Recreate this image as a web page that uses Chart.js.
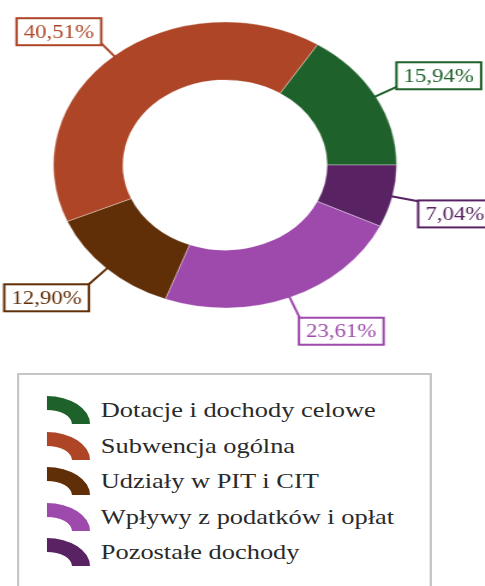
<!DOCTYPE html>
<html><head><meta charset="utf-8">
<script src="https://cdn.jsdelivr.net/npm/chart.js@4/dist/chart.umd.min.js"></script>
<style>
html,body{margin:0;padding:0;background:#fff;overflow:hidden;width:485px;height:586px;}
#wrap{position:absolute;left:0;top:0;width:404px;height:586px;transform:scaleX(1.2);transform-origin:0 0;}
#c{position:absolute;left:0;top:0;}
#legend{position:absolute;left:14px;top:373px;width:346px;height:240px;border:2px solid #c6c6c6;box-sizing:border-box;background:#fff;}
.item{position:absolute;left:0;height:28px;width:340px;}
.item svg{position:absolute;left:23px;top:0;}
.item span{position:absolute;left:68px;top:0;line-height:28px;font-family:"Liberation Serif",Tinos,"Times New Roman",Times,"DejaVu Serif","Noto Serif",serif;font-size:22px;color:#2a2a2a;white-space:nowrap;}
</style>
</head><body>
<div id="wrap">
<canvas id="c" width="404" height="586"></canvas>
<div id="legend"></div>
</div>
<script>
const categories = ['Dotacje i dochody celowe','Subwencja ogólna','Udziały w PIT i CIT','Wpływy z podatków i opłat','Pozostałe dochody'];
const shares = [15.94, 40.51, 12.90, 23.61, 7.04];
const shareLabels = ['15,94%','40,51%','12,90%','23,61%','7,04%'];
const colors = ['#1f612a','#ad4526','#602e07','#9e4aac','#582263'];
const drawOrder = [0, 4, 3, 2, 1];

const FONT = '"Liberation Serif", Tinos, "Times New Roman", Times, "DejaVu Serif", "Noto Serif", serif';
const boxLabels = {
  id: 'boxLabels',
  afterDatasetsDraw(chart) {
    const ctx = chart.ctx;
    const meta = chart.getDatasetMeta(0);
    ctx.save();
    ctx.font = '19px ' + FONT;
    meta.data.forEach((arc, k) => {
      const i = drawOrder[k];
      const p = arc.getProps(['x','y','startAngle','endAngle','outerRadius'], true);
      const mid = (p.startAngle + p.endAngle) / 2;
      const dx = Math.cos(mid), dy = Math.sin(mid);
      const lead = dy < 0 ? (dx > 0 ? 22 : 19) : 24;
      const ax = p.x + dx * (p.outerRadius - 1), ay = p.y + dy * (p.outerRadius - 1);
      const ex = ax + dx * lead, ey = ay + dy * lead;
      const text = shareLabels[i];
      const tw = ctx.measureText(text).width;
      const w = tw + 12, h = 27;
      const bx = dx >= 0 ? ex - 1 : ex - w + 1;
      const by = dy >= 0 ? ey - 1 : ey - h + 3;
      ctx.strokeStyle = colors[i];
      ctx.lineWidth = 2;
      ctx.beginPath(); ctx.moveTo(ax, ay); ctx.lineTo(ex, ey); ctx.stroke();
      ctx.fillStyle = '#fff';
      ctx.fillRect(bx, by, w, h);
      ctx.strokeRect(bx, by, w, h);
      ctx.fillStyle = colors[i];
      ctx.textAlign = 'center';
      ctx.textBaseline = 'middle';
      ctx.fillText(text, bx + w / 2, by + h / 2 + 1);
    });
    ctx.restore();
  }
};

new Chart(document.getElementById('c'), {
  type: 'doughnut',
  data: {
    labels: drawOrder.map(i => categories[i]),
    datasets: [{
      data: drawOrder.map(i => shares[i]),
      backgroundColor: drawOrder.map(i => colors[i]),
      borderColor: 'rgba(255,255,255,0.35)',
      borderWidth: 1
    }]
  },
  options: {
    responsive: false,
    animation: false,
    cutout: '59.5%',
    rotation: 90 - shares[0] * 3.6,
    layout: { padding: { top: 21.5, left: 44, right: 73, bottom: 277.5 } },
    plugins: { legend: { display: false }, tooltip: { enabled: false } }
  },
  plugins: [boxLabels]
});

const legend = document.getElementById('legend');
categories.forEach((name, i) => {
  const row = document.createElement('div');
  row.className = 'item';
  row.style.top = (21 + i * 35.5) + 'px';
  row.innerHTML = '<svg width="36" height="28" viewBox="0 0 36 28"><path d="M0,0 A36,28 0 0 1 36,28 L21,28 A21,14 0 0 0 0,14 Z" fill="' + colors[i] + '"/></svg>';
  const s = document.createElement('span');
  s.textContent = name;
  row.appendChild(s);
  legend.appendChild(row);
});
</script>
</body></html>
